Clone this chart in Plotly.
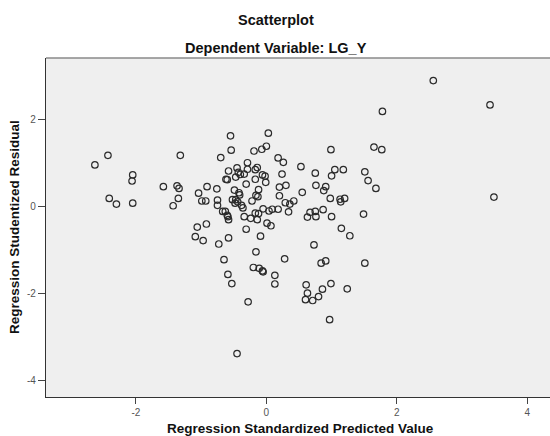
import plotly.graph_objects as go

# Regression Standardized Predicted Value (x) and Regression Studentized Residual (y)
pred = [
    -2.63, -2.43, -2.41, -2.30, -2.05, -2.06, -2.05, -1.58, -1.37, -1.34,
    -1.32, -1.35, -1.43, -1.04, -0.99, -0.93, -0.91, -0.76, -0.75, -0.75,
    -1.06, -0.92, -1.09, -0.97, -0.73, -0.70, -0.55, -0.54, -0.67, -0.63,
    -0.60, -0.58, -0.58, -0.65, -0.59, -0.53, -0.28, -0.45, -0.62, -0.60,
    -0.58, -0.45, -0.43, -0.47, -0.40, -0.34, -0.29, -0.29, -0.31, -0.49,
    -0.42, -0.41, -0.52, -0.47, -0.48, -0.38, -0.36, -0.34, -0.31, -0.19,
    -0.07, 0.00, 0.03, -0.14, -0.17, -0.17, -0.06, -0.02, -0.01, -0.12,
    -0.16, -0.22, -0.05, -0.17, -0.12, -0.24, -0.14, 0.04, 0.09, 0.18,
    0.01, 0.07, -0.09, -0.16, -0.20, -0.11, -0.06, -0.05, 0.13, 0.13,
    0.28, 0.18, 0.26, 0.24, 0.20, 0.30, 0.20, 0.29, 0.36, 0.42,
    0.34, 0.53, 0.55, 0.75, 0.76, 0.91, 0.88, 0.99, 1.05, 1.00,
    1.18, 0.98, 1.13, 1.14, 1.20, 0.67, 0.63, 0.75, 0.76, 0.87,
    1.00, 1.15, 1.28, 0.73, 0.91, 0.84, 0.61, 0.63, 0.60, 0.71,
    0.80, 0.86, 0.99, 1.24, 0.97, 1.51, 1.56, 1.68, 1.49, 1.51,
    1.65, 1.77, 1.78, 2.56, 3.43, 3.49, -0.59, -0.44, -0.13,
]
resid = [
    0.95, 1.17, 0.18, 0.05, 0.72, 0.58, 0.07, 0.45, 0.47, 0.41,
    1.17, 0.18, 0.01, 0.30, 0.12, 0.12, 0.45, 0.40, 0.14, 0.02,
    -0.48, -0.41, -0.70, -0.79, -0.87, 1.12, 1.62, 1.29, -0.12, -0.12,
    -0.21, -0.31, -0.73, -1.23, -1.57, -1.78, -2.20, -3.39, 0.62, 0.61,
    0.81, 0.88, 0.78, 0.67, 0.73, 0.74, 1.00, 0.85, 0.51, 0.37,
    0.31, 0.26, 0.15, 0.15, 0.07, 0.02, -0.04, -0.24, -0.53, 1.27,
    1.31, 1.38, 1.68, 0.89, 0.84, 0.62, 0.72, 0.69, 0.55, 0.38,
    0.25, 0.12, -0.06, -0.16, -0.17, -0.28, -0.31, -0.11, -0.07, -0.07,
    -0.39, -0.45, -0.69, -1.05, -1.41, -1.43, -1.49, -1.51, -1.59, -1.79,
    -1.21, 1.11, 1.01, 0.74, 0.44, 0.48, 0.24, 0.08, 0.05, 0.12,
    -0.13, 0.91, 0.32, 0.76, 0.48, 0.45, 0.36, 1.30, 0.84, 0.70,
    0.84, 0.18, 0.16, 0.10, 0.18, -0.14, -0.25, -0.12, -0.24, -0.08,
    -0.24, -0.51, -0.68, -0.89, -1.26, -1.31, -1.81, -2.00, -2.15, -2.17,
    -2.08, -1.91, -1.78, -1.90, -2.61, 0.79, 0.59, 0.41, -0.18, -1.31,
    1.36, 1.30, 2.18, 2.89, 2.33, 0.21, -0.24, 0.10, 0.22,
]

x_ticks = [-2, 0, 2, 4]
y_ticks = [-4, -2, 0, 2]

title_main = "Scatterplot"
title_sub = "Dependent Variable: LG_Y"
x_title = "Regression Standardized Predicted Value"
y_title = "Regression Studentized Residual"

FONT = "Liberation Sans, Arial, sans-serif"

fig = go.Figure(
    go.Scatter(
        x=pred, y=resid, mode="markers",
        marker=dict(symbol="circle-open", size=6.5, color="#2b2b2b",
                    line=dict(width=1.2, color="#2b2b2b")),
        hoverinfo="x+y",
    )
)

plot_h = 436 - 58 - 39
plot_w = 550 - 46

fig.update_layout(
    width=550, height=436,
    margin=dict(l=46, r=0, t=58, b=39, autoexpand=False),
    paper_bgcolor="white",
    plot_bgcolor="#efefef",
    showlegend=False,
    font=dict(family=FONT, color="#222"),
    xaxis=dict(
        range=[-3.38, 4.35], tickvals=x_ticks, ticktext=[str(v) for v in x_ticks],
        showgrid=False, zeroline=False, showline=True, linecolor="#333", linewidth=1.2,
        ticks="outside", ticklen=6, tickcolor="#444", tickwidth=1,
        tickfont=dict(size=10, color="#555", family=FONT), automargin=False,
    ),
    yaxis=dict(
        range=[-4.39, 3.41], tickvals=y_ticks, ticktext=[str(v) for v in y_ticks],
        showgrid=False, zeroline=False, showline=True, linecolor="#333", linewidth=1.2,
        ticks="outside", ticklen=7, tickcolor="#444", tickwidth=1,
        tickfont=dict(size=10, color="#555", family=FONT), automargin=False,
    ),
    shapes=[
        dict(type="line", xref="paper", yref="paper", x0=0, x1=1, y0=1, y1=1,
             line=dict(color="#8a8a8a", width=1.5)),
    ],
    annotations=[
        dict(text="<b>" + title_main + "</b>", xref="paper", yref="paper",
             x=(276 - 46) / plot_w, y=1 + 38 / plot_h, xanchor="center", yanchor="middle",
             showarrow=False, font=dict(size=14.5, color="#111", family=FONT)),
        dict(text="<b>" + title_sub + "</b>", xref="paper", yref="paper",
             x=(276 - 46) / plot_w, y=1 + 10 / plot_h, xanchor="center", yanchor="middle",
             showarrow=False, font=dict(size=14.5, color="#111", family=FONT)),
        dict(text="<b>" + x_title + "</b>", xref="paper", yref="paper",
             x=(300 - 46) / plot_w, y=-(428.5 - 397) / plot_h, xanchor="center", yanchor="middle",
             showarrow=False, font=dict(size=13.5, color="#111", family=FONT)),
        dict(text="<b>" + y_title + "</b>", xref="paper", yref="paper",
             x=(14 - 46) / plot_w, y=(397 - 227) / plot_h, xanchor="center", yanchor="middle",
             textangle=-90, showarrow=False, font=dict(size=13.5, color="#111", family=FONT)),
    ],
)

fig.write_html(
    "out.html",
    config={"displayModeBar": False},
    post_script="document.body.style.margin='0px';document.body.style.padding='0px';",
)
